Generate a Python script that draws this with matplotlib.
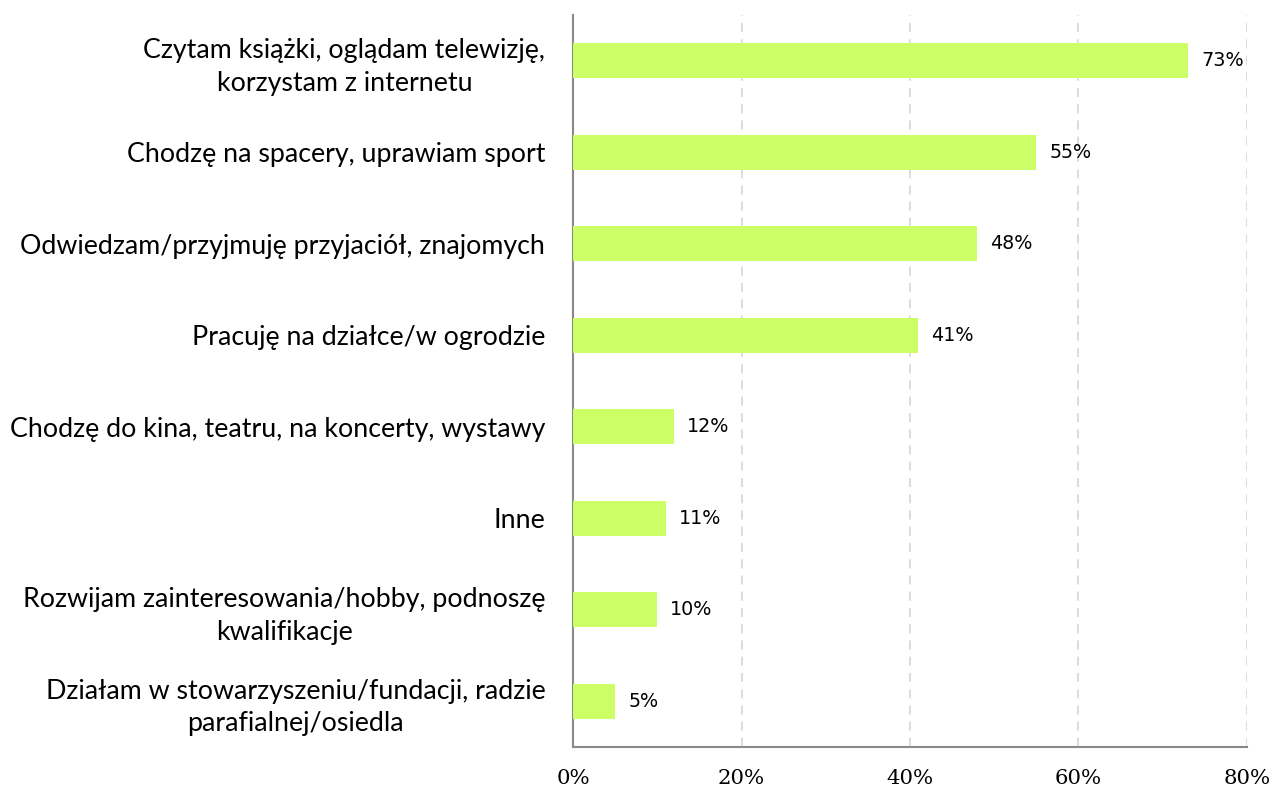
import matplotlib
matplotlib.use("Agg")
import matplotlib.pyplot as plt

categories = [
    "Czytam książki, oglądam telewizję,\nkorzystam z internetu",
    "Chodzę na spacery, uprawiam sport",
    "Odwiedzam/przyjmuję przyjaciół, znajomych",
    "Pracuję na działce/w ogrodzie",
    "Chodzę do kina, teatru, na koncerty, wystawy",
    "Inne",
    "Rozwijam zainteresowania/hobby, podnoszę\nkwalifikacje",
    "Działam w stowarzyszeniu/fundacji, radzie\nparafialnej/osiedla",
]
values = [73, 55, 48, 41, 12, 11, 10, 5]
x_ticks = [0, 20, 40, 60, 80]
x_tick_labels = ["0%", "20%", "40%", "60%", "80%"]

fig = plt.figure(figsize=(12.72, 7.9), dpi=100)
ax = fig.add_axes([0.4505, 0.0544, 0.5298, 0.9266])

ypos = list(range(len(categories)))
ax.barh(ypos, values, height=0.38, color="#CCFF66", zorder=3)
ax.set_ylim(len(categories) - 0.5, -0.5)
ax.set_xlim(0, 80)

for y, v in zip(ypos, values):
    ax.text(v + 1.55, y, f"{v}%", va="center", ha="left",
            fontsize=13.8, family="DejaVu Sans", color="#000000", zorder=4)

ax.set_yticks(ypos)
ax.set_yticklabels(categories, family="Lato", fontsize=19.3,
                   multialignment="center", linespacing=1.38)
for lbl in ax.get_yticklabels():
    lbl.set_horizontalalignment("right")
ax.tick_params(axis="y", length=0, pad=20)

ax.set_xticks(x_ticks)
ax.set_xticklabels(x_tick_labels, family="DejaVu Serif", fontsize=15.3)
ax.tick_params(axis="x", length=0, pad=16)

ax.grid(axis="x", linestyle=(0, (5, 4)), color="#D9D9D9", linewidth=1.3, zorder=0)
for side in ("top", "right"):
    ax.spines[side].set_visible(False)
for side in ("left", "bottom"):
    ax.spines[side].set_color("#898989")
    ax.spines[side].set_linewidth(1.5)

fig.savefig("out.png", dpi=100)
